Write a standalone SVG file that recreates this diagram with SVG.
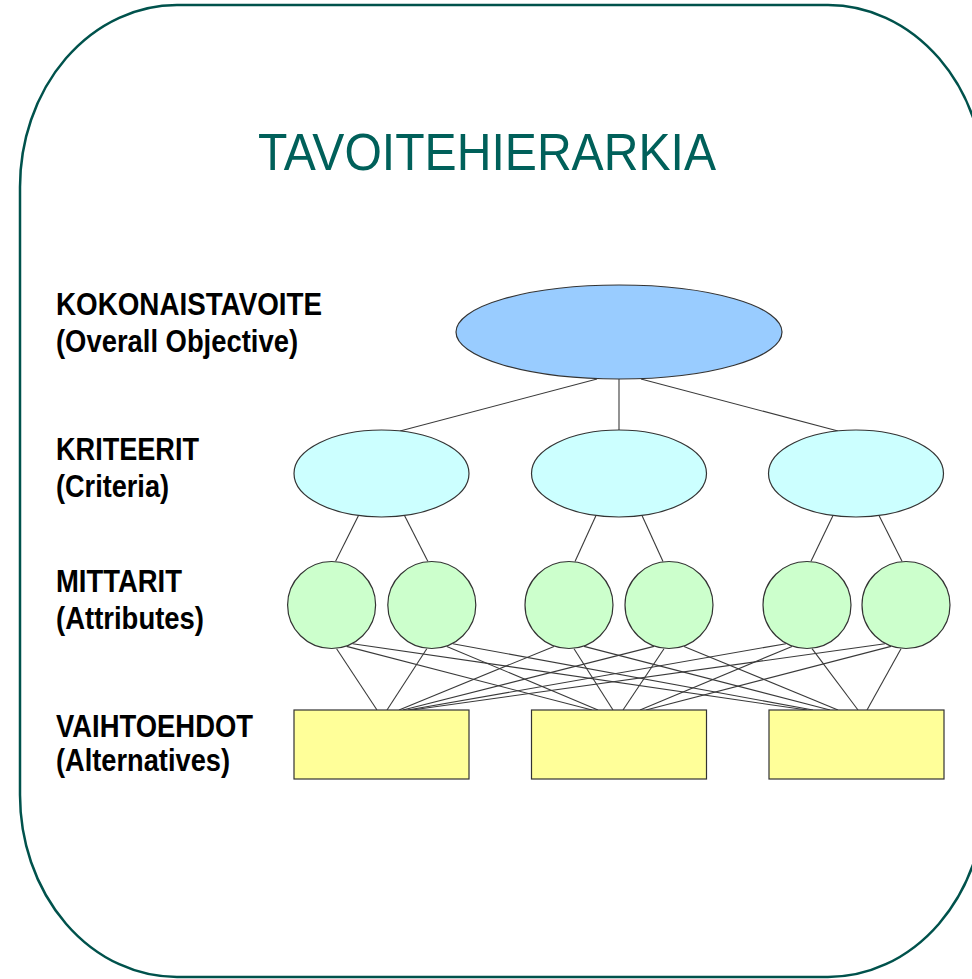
<svg xmlns="http://www.w3.org/2000/svg" width="972" height="979" viewBox="0 0 972 979">
<style>
.frame{fill:#ffffff;stroke:#00524c;stroke-width:2.5}
.title{font-family:"Liberation Sans",Arial,sans-serif;font-size:52px;fill:#00605a}
.lbl{font-family:"Liberation Sans",Arial,sans-serif;font-size:32px;font-weight:bold;fill:#000}
.goal{fill:#99ccff;stroke:#333;stroke-width:1.2}
.crit{fill:#ccffff;stroke:#333;stroke-width:1.2}
.attr{fill:#ccffcc;stroke:#333;stroke-width:1.2}
.alt{fill:#ffff99;stroke:#333;stroke-width:1.2}
.conn line{stroke:#3a3a3a;stroke-width:1.1}
</style>
<rect class="frame" x="20" y="5" width="965" height="972" rx="157" ry="182"/>
<text class="title" x="258" y="170" textLength="458" lengthAdjust="spacingAndGlyphs">TAVOITEHIERARKIA</text>
<g id="labels">
<text class="lbl" x="56" y="315" textLength="266" lengthAdjust="spacingAndGlyphs">KOKONAISTAVOITE</text>
<text class="lbl" x="56" y="352" textLength="242" lengthAdjust="spacingAndGlyphs">(Overall Objective)</text>
<text class="lbl" x="56" y="460" textLength="143" lengthAdjust="spacingAndGlyphs">KRITEERIT</text>
<text class="lbl" x="56" y="497" textLength="113" lengthAdjust="spacingAndGlyphs">(Criteria)</text>
<text class="lbl" x="56" y="592" textLength="126" lengthAdjust="spacingAndGlyphs">MITTARIT</text>
<text class="lbl" x="56" y="629" textLength="148" lengthAdjust="spacingAndGlyphs">(Attributes)</text>
<text class="lbl" x="56" y="737" textLength="197" lengthAdjust="spacingAndGlyphs">VAIHTOEHDOT</text>
<text class="lbl" x="56" y="771" textLength="174" lengthAdjust="spacingAndGlyphs">(Alternatives)</text>
</g>
<g id="connectors" class="conn">
<line x1="597" y1="379" x2="400" y2="431"/>
<line x1="619" y1="379" x2="619" y2="430"/>
<line x1="641" y1="379" x2="838" y2="431"/>
<line x1="358.5" y1="515.5" x2="335.6" y2="561.2"/>
<line x1="404.5" y1="515.5" x2="427.8" y2="561.2"/>
<line x1="596" y1="515.5" x2="575" y2="561.5"/>
<line x1="642" y1="515.5" x2="663" y2="561.5"/>
<line x1="833" y1="515.5" x2="811" y2="561.2"/>
<line x1="879" y1="515.5" x2="902" y2="561.2"/>
<line x1="336.6" y1="648.7" x2="377" y2="710"/>
<line x1="346.6" y1="646.4" x2="592" y2="710"/>
<line x1="352.6" y1="643.7" x2="807" y2="710"/>
<line x1="426.8" y1="648.7" x2="387" y2="710"/>
<line x1="446.8" y1="646.4" x2="598" y2="710"/>
<line x1="452.8" y1="643.7" x2="813" y2="710"/>
<line x1="554" y1="646.4" x2="399" y2="710"/>
<line x1="574" y1="648.7" x2="613" y2="710"/>
<line x1="584" y1="646.4" x2="830" y2="710"/>
<line x1="654" y1="646.4" x2="403" y2="710"/>
<line x1="664" y1="648.7" x2="623" y2="710"/>
<line x1="684" y1="646.4" x2="838" y2="710"/>
<line x1="786" y1="643.7" x2="408" y2="710"/>
<line x1="792" y1="646.4" x2="640" y2="710"/>
<line x1="812" y1="648.7" x2="858" y2="710"/>
<line x1="885" y1="643.7" x2="412" y2="710"/>
<line x1="891" y1="646.4" x2="646" y2="710"/>
<line x1="901" y1="648.7" x2="867" y2="710"/>
</g>
<g id="goal"><ellipse class="goal" cx="619" cy="332" rx="163" ry="47"/></g>
<g id="crit1"><ellipse class="crit" cx="381.5" cy="473.5" rx="87.5" ry="43.5"/></g>
<g id="crit2"><ellipse class="crit" cx="619" cy="473.5" rx="87.5" ry="43.5"/></g>
<g id="crit3"><ellipse class="crit" cx="856" cy="473.5" rx="87.5" ry="43.5"/></g>
<g id="attr1"><ellipse class="attr" cx="331.6" cy="605" rx="44" ry="43.5"/></g>
<g id="attr2"><ellipse class="attr" cx="431.8" cy="605" rx="44" ry="43.5"/></g>
<g id="attr3"><ellipse class="attr" cx="569" cy="605" rx="44" ry="43.5"/></g>
<g id="attr4"><ellipse class="attr" cx="669" cy="605" rx="44" ry="43.5"/></g>
<g id="attr5"><ellipse class="attr" cx="807" cy="605" rx="44" ry="43.5"/></g>
<g id="attr6"><ellipse class="attr" cx="906" cy="605" rx="44" ry="43.5"/></g>
<g id="alt1"><rect class="alt" x="294" y="710" width="175" height="69"/></g>
<g id="alt2"><rect class="alt" x="531.5" y="710" width="175" height="69"/></g>
<g id="alt3"><rect class="alt" x="769" y="710" width="175" height="69"/></g>
</svg>
